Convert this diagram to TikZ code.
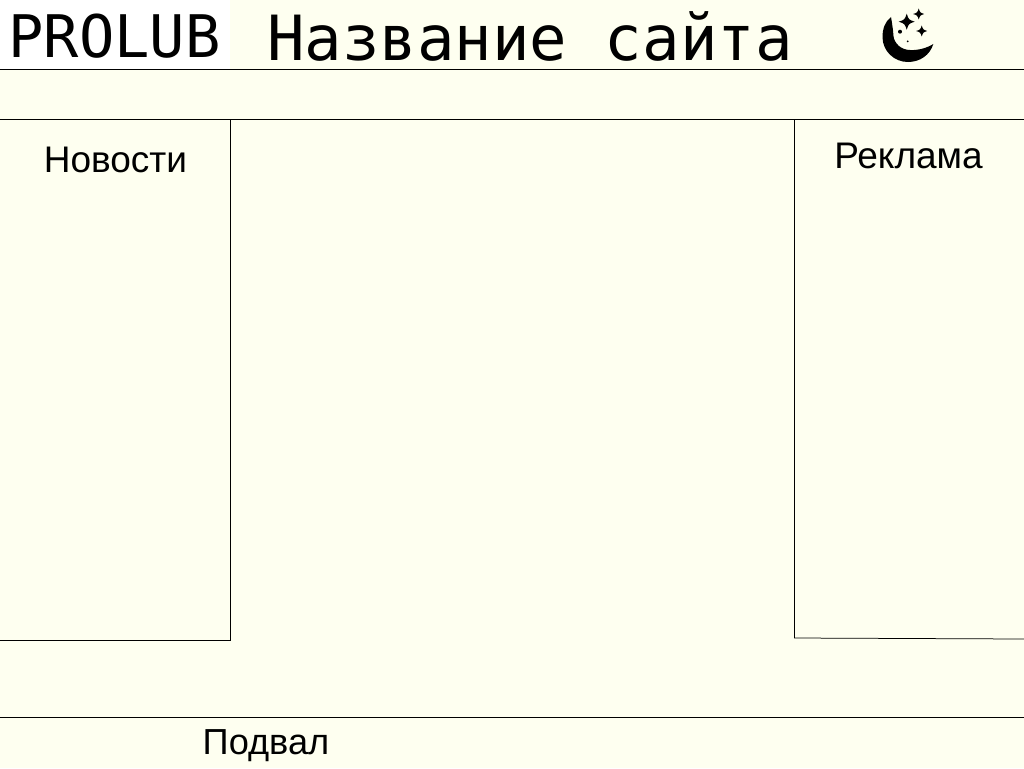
\documentclass[tikz,border=0pt]{standalone}
\usepackage{fontspec}
\setmainfont{Liberation Sans}
\newfontfamily\monof{DejaVu Sans Mono}
\definecolor{bgc}{HTML}{FEFFF0}
\newcommand{\sparklestar}[3]{\fill[black] (#1-#3,#2) .. controls (#1-0.25*#3,#2-0.25*#3) .. (#1,#2-#3) .. controls (#1+0.25*#3,#2-0.25*#3) .. (#1+#3,#2) .. controls (#1+0.25*#3,#2+0.25*#3) .. (#1,#2+#3) .. controls (#1-0.25*#3,#2+0.25*#3) .. cycle;}
\tikzset{x=1pt,y=-1pt,
 rule/.style={draw=black,line width=0.75pt},
 lab/.style={inner sep=0pt,font=\fontsize{37}{40}\selectfont,text=black},
 foot/.style={inner sep=0pt,font=\fontsize{36.2}{40}\selectfont,text=black},
 big/.style={inner sep=0pt,text=black}}
\begin{document}
\begin{tikzpicture}
\path[use as bounding box,fill=bgc] (0,0) rectangle (1024,768);
\fill[white] (0,0) rectangle (230,69);
\draw[rule] (0,69.5) -- (1024,69.5);
\draw[rule] (0,119.5) -- (1024,119.5);
\draw[rule] (230.5,119.5) -- (230.5,640) -- (0,640);
\draw[rule] (794.5,119.5) -- (794.5,638) -- (1024,639);
\draw[rule] (0,717.5) -- (1024,717.5);
\node[big,font=\monof\fontsize{58.7}{64}\selectfont] (logo) at (114.5,36) {PROLUB};
\node[big,font=\monof\fontsize{62.3}{68}\selectfont] (title) at (530,36) {Название сайта};
\node[lab] (news) at (115.5,160) {Новости};
\node[lab] (ads) at (908.5,156) {Реклама};
\node[foot] (footer) at (266,746) {Подвал};
\fill[black] (891,17) .. controls (885,21.5) and (882.5,29) .. (882.5,37)
  .. controls (882.5,51) and (894,62) .. (908,62)
  .. controls (920,62) and (930,55) .. (933.3,44)
  .. controls (927,48) and (918,50.5) .. (910,50)
  .. controls (901,50) and (894,43) .. (893.5,36)
  .. controls (893,29) and (892,23) .. cycle;
\sparklestar{906.7}{21.7}{8}
\sparklestar{918.7}{14}{5.5}
\sparklestar{921.7}{31}{5.5}
\fill[black] (900,31.7) circle (2);
\fill[black] (907.7,41.3) circle (1);
\end{tikzpicture}
\end{document}
